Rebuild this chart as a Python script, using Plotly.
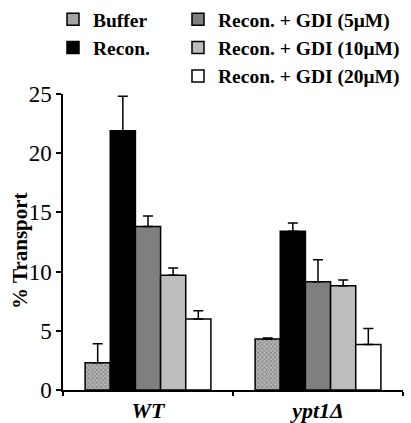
import plotly.graph_objects as go

categories = ["<i>WT</i>", "<i>ypt1Δ</i>"]
series_names = ["Buffer", "Recon.", "Recon. + GDI (5μM)", "Recon. + GDI (10μM)", "Recon. + GDI (20μM)"]
buffer_vals = [2.3, 4.3]
buffer_err = [1.6, 0.1]
recon_vals = [21.9, 13.4]
recon_err = [2.9, 0.7]
gdi5_vals = [13.8, 9.15]
gdi5_err = [0.9, 1.85]
gdi10_vals = [9.7, 8.8]
gdi10_err = [0.6, 0.5]
gdi20_vals = [6.0, 3.85]
gdi20_err = [0.7, 1.35]
y_title = "% Transport"

values = [buffer_vals, recon_vals, gdi5_vals, gdi10_vals, gdi20_vals]
errors = [buffer_err, recon_err, gdi5_err, gdi10_err, gdi20_err]
colors = ["#a8a8a8", "#000000", "#7f7f7f", "#bdbdbd", "#ffffff"]
legend_ids = ["legend", "legend", "legend2", "legend2", "legend2"]

font_family = "Liberation Serif, Times New Roman, serif"

fig = go.Figure()
for i, name in enumerate(series_names):
    marker = dict(color=colors[i], line=dict(color="black", width=1.5))
    if i == 0:
        marker["pattern"] = dict(shape="x", size=3, solidity=0.45,
                                 fgcolor="#444444", bgcolor="#b8b8b8")
    fig.add_trace(go.Bar(
        x=categories, y=values[i], name=name,
        marker=marker,
        error_y=dict(type="data", array=errors[i], arrayminus=[0, 0],
                     symmetric=False, color="black", thickness=1.5, width=5),
        legend=legend_ids[i],
    ))

legend_common = dict(
    xref="container", yref="container", xanchor="left", yanchor="top",
    font=dict(size=19.5, family=font_family, weight="bold"),
    bgcolor="rgba(0,0,0,0)", itemwidth=30, tracegroupgap=0,
)
fig.update_layout(
    width=411, height=423,
    margin=dict(l=63, r=8, t=94, b=33, autoexpand=False),
    paper_bgcolor="white", plot_bgcolor="white",
    barmode="group", bargap=0.26, bargroupgap=0,
    font=dict(family=font_family, color="black"),
    legend=dict(x=53 / 411, y=1.025, **legend_common),
    legend2=dict(x=178 / 411, y=1.025, **legend_common),
    showlegend=True,
    annotations=[dict(
        text="<b>" + y_title + "</b>", textangle=-90,
        xref="paper", yref="paper", x=(20 - 63) / 340, y=0.47,
        xanchor="center", yanchor="middle", showarrow=False,
        font=dict(size=21, family=font_family, color="black"),
    )],
)
fig.update_yaxes(
    range=[0, 25], tickvals=[0, 5, 10, 15, 20, 25],
    showgrid=False, zeroline=False,
    showline=True, linecolor="black", linewidth=1.5,
    ticks="outside", ticklen=5, tickwidth=1.5, tickcolor="black",
    tickfont=dict(size=23, family=font_family),
)
fig.update_xaxes(
    showgrid=False, showline=True, linecolor="black", linewidth=1.5,
    ticks="outside", tickson="boundaries", ticklen=4, tickwidth=1.5, tickcolor="black",
    tickfont=dict(size=22, family=font_family, weight="bold"),
)

fig.write_html(
    "out.html",
    config={"displayModeBar": False},
    post_script="document.body.style.margin='0';document.body.style.overflow='hidden';",
)
